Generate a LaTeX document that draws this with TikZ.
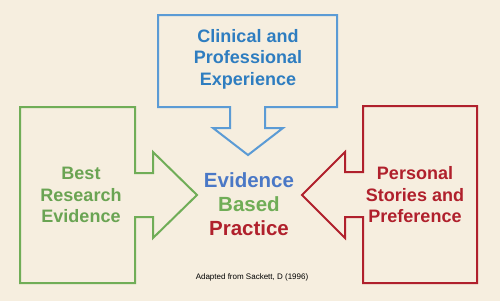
\documentclass[tikz,border=0pt]{standalone}
\usepackage{fontspec}
\setmainfont{Liberation Sans}
\definecolor{bg}{HTML}{F6EEDF}
\definecolor{bluestroke}{HTML}{5B9BD5}
\definecolor{bluetext}{HTML}{2E7DC0}
\definecolor{evblue}{HTML}{4A78C6}
\definecolor{greenc}{HTML}{70AD57}
\definecolor{redc}{HTML}{B0202C}
\begin{document}
\begin{tikzpicture}[x=1pt,y=-1pt,
  shapeline/.style={line width=2pt,line join=miter},
  lbl/.style={font=\fontsize{18}{21.5}\selectfont\bfseries,align=center,inner sep=0pt},
  ctr/.style={font=\fontsize{20.5}{24}\selectfont\bfseries,inner sep=0pt}]
\fill[bg] (0,0) rectangle (500,301);
\useasboundingbox (0,0) rectangle (500,301);
% top arrow
\draw[shapeline,bluestroke] (158,15) -- (337,15) -- (337,107) -- (265,107) -- (265,128) -- (283,128) -- (248,155) -- (213,128) -- (230,128) -- (230,107) -- (158,107) -- cycle;
% left arrow
\draw[shapeline,greenc] (20,107) -- (135,107) -- (135,173) -- (153,173) -- (153,152) -- (197,195) -- (153,238) -- (153,217) -- (135,217) -- (135,283) -- (20,283) -- cycle;
% right arrow
\draw[shapeline,redc] (477,106) -- (363,106) -- (363,172) -- (345,172) -- (345,152) -- (302,195) -- (345,238) -- (345,217) -- (363,217) -- (363,283) -- (477,283) -- cycle;
\node[lbl,text=bluetext] (clin) at (248,59) {Clinical and\\Professional\\Experience};
\node[lbl,text=greenc!95!black] (best) at (81,195) {Best\\Research\\Evidence};
\node[lbl,text=redc] (pers) at (415,195) {Personal\\Stories and\\Preference};
\node[ctr,text=evblue] (ev) at (249,180) {Evidence};
\node[ctr,text=greenc] (based) at (249,204) {Based};
\node[ctr,text=redc] (prac) at (249,228) {Practice};
\node[font=\fontsize{8}{9}\selectfont,inner sep=0pt] (src) at (252,277) {Adapted from Sackett, D (1996)};
\end{tikzpicture}
\end{document}
